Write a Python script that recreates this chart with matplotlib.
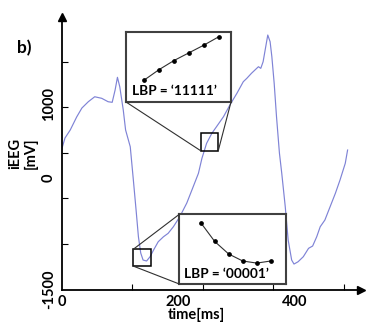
import matplotlib
matplotlib.use("Agg")
import matplotlib.pyplot as plt
from matplotlib.patches import Rectangle, ConnectionPatch
import numpy as np

plt.rcParams['font.family'] = ['Lato', 'DejaVu Sans']
plt.rcParams['font.weight'] = 'bold'

# iEEG trace (time in ms, voltage in mV)
t_ms = [0, 6, 15, 26, 35, 46, 57, 69, 80, 87, 92, 96, 100, 106, 110, 118, 123,
        128, 132, 136, 140, 146, 152, 158, 166, 175, 183, 192, 203, 215, 226,
        235, 241, 249, 258, 266, 278, 289, 301, 312, 318, 326, 335, 338, 342,
        346, 351, 354, 358, 361, 365, 369, 374, 378, 384, 389, 395, 399, 406,
        415, 424, 431, 438, 444, 452, 461, 470, 478, 487, 491]
v_mv = [380, 542, 650, 825, 946, 1031, 1098, 1077, 1031, 1023, 1189, 1360,
        1233, 919, 650, 424, 3, -429, -789, -1009, -1103, -1116, -1058, -968,
        -856, -789, -743, -654, -519, -335, -115, 66, 268, 470, 605, 694, 829,
        987, 1144, 1301, 1346, 1414, 1481, 1503, 1481, 1570, 1795, 1930, 1840,
        1638, 1279, 829, 339, 66, -384, -833, -1103, -1157, -1126, -1058, -945,
        -914, -789, -654, -564, -384, -204, -24, 201, 380]

x_ticks = [0, 200, 400]
y_ticks = [1000, 0, -1500]

# zoom windows on the trace: (t0, t1, v0, v1)
box_up = (239, 269, 370, 605)
box_down = (123, 154, -1184, -959)

# LBP sample points shown in the insets
lbp_x = [0, 1, 2, 3, 4, 5]
lbp_up = [0.31, 0.46, 0.59, 0.70, 0.81, 0.93]
lbp_down = [0.88, 0.61, 0.43, 0.33, 0.30, 0.33]
lbp_up_txt = "LBP = \u201811111\u2019"
lbp_down_txt = "LBP = \u201800001\u2019"

W, H = 374, 328
fig = plt.figure(figsize=(W / 100, H / 100), dpi=100)

def frac(x0, y0, x1, y1):
    # pixel box (top-left origin) -> figure fraction rect
    return [x0 / W, 1 - y1 / H, (x1 - x0) / W, (y1 - y0) / H]

ax = fig.add_axes(frac(61.5, 17, 361, 289.5))
ax.plot(t_ms, v_mv, color='#7f83d6', lw=0.85)
ax.set_xlim(0, 514)
ax.set_ylim(-1500, 2173)

for s in ['top', 'right']:
    ax.spines[s].set_visible(False)
for s in ['left', 'bottom']:
    ax.spines[s].set_linewidth(1.3)
ax.plot(1, 0, '>', color='black', ms=6, transform=ax.transAxes, clip_on=False)
ax.plot(0, 1, '^', color='black', ms=6, transform=ax.transAxes, clip_on=False)

ax.set_xticks(x_ticks)
ax.set_xticklabels([str(v) for v in x_ticks], fontsize=10.5, fontweight='bold')
ax.set_yticks(y_ticks)
ax.set_yticklabels([str(v) for v in y_ticks], fontsize=10.5, fontweight='bold',
                   rotation=90, va='center')
ax.tick_params(which='major', length=0, pad=4)
ax.set_xticks([121.2 * k for k in range(1, 5)], minor=True)
ax.set_yticks([-1500 + 614 * k for k in range(1, 6)], minor=True)
ax.tick_params(which='minor', direction='in', length=4, width=0.8)

fig.text(24 / W, 1 - 48 / H, "b)", fontsize=12.5, fontweight='bold',
         ha='center', va='center')
fig.text(23 / W, 1 - 153 / H, "iEEG\n[mV]", fontsize=10.5, fontweight='bold',
         rotation=90, ha='center', va='center', multialignment='center',
         linespacing=1.1)
fig.text(196 / W, 1 - 315 / H, "time[ms]", fontsize=10.5, fontweight='bold',
         ha='center', va='center')

def inset(rect, xlim, ys, label, lx):
    a = fig.add_axes(rect)
    a.plot(lbp_x, ys, color='#303030', lw=0.8, marker='o', ms=2.4,
           mfc='black', mec='black')
    a.set_xlim(*xlim)
    a.set_ylim(0, 1)
    a.set_xticks([])
    a.set_yticks([])
    for s in a.spines.values():
        s.set_linewidth(1.5)
        s.set_color('#404040')
    a.text(lx, 0.15, label, transform=a.transAxes, fontsize=9.8,
           fontweight='bold', ha='center', va='center')
    return a

ax_up = inset(frac(126, 31.7, 231, 102), (-1.2, 5.8), lbp_up, lbp_up_txt, 0.46)
ax_dn = inset(frac(179.3, 214.3, 286, 284), (-1.53, 6.09), lbp_down,
              lbp_down_txt, 0.44)

for t0, t1, v0, v1 in [box_up, box_down]:
    ax.add_patch(Rectangle((t0, v0), t1 - t0, v1 - v0, fill=False,
                           ec='black', lw=1.1, zorder=3))

links = [((box_up[0], box_up[2]), ax_up, (0, 0)),
         ((box_up[1], box_up[2]), ax_up, (1, 0)),
         ((box_down[0], box_down[3]), ax_dn, (0, 1)),
         ((box_down[0], box_down[2]), ax_dn, (0, 0))]
for xy, a, corner in links:
    con = ConnectionPatch(xyA=xy, coordsA=ax.transData, xyB=corner,
                          coordsB=a.transAxes, color='#303030', lw=0.8)
    fig.add_artist(con)

fig.savefig("out.png", dpi=100)
